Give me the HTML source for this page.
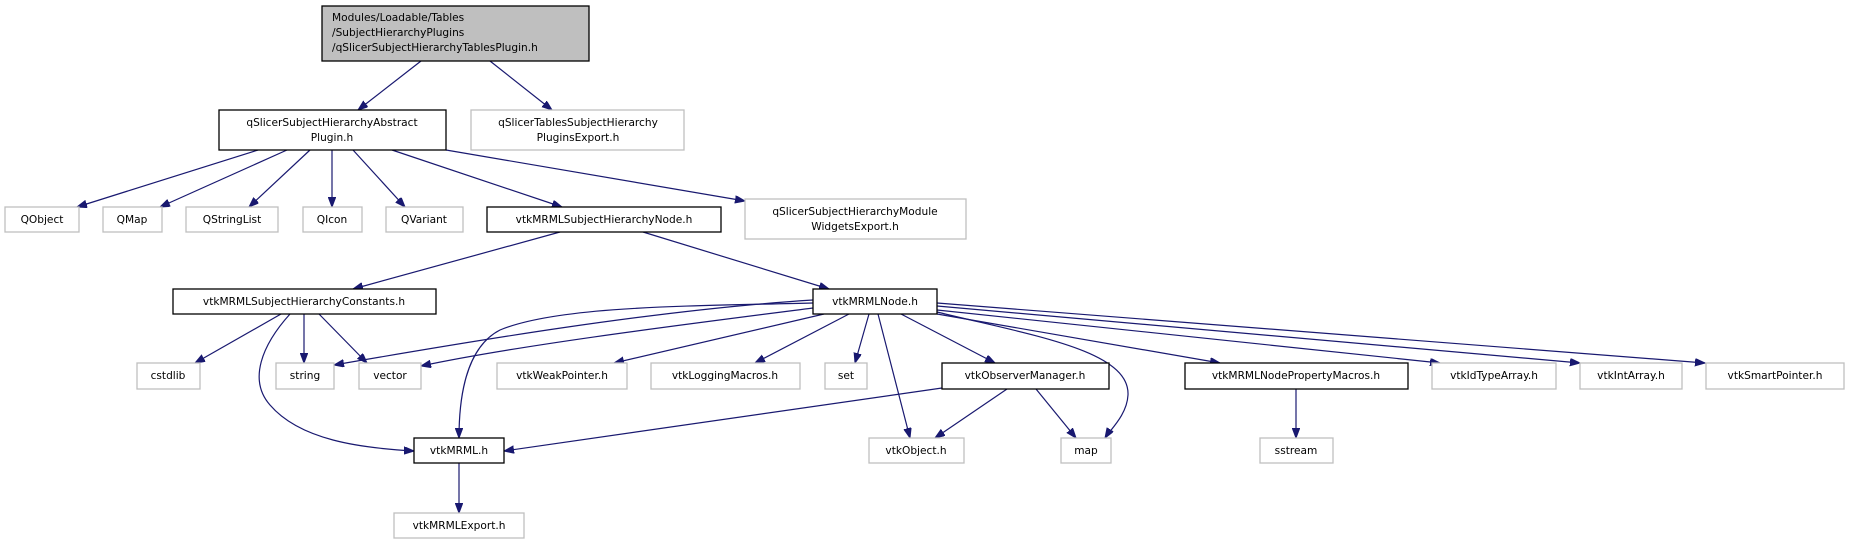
<!DOCTYPE html>
<html><head><meta charset="utf-8"><style>
html,body{margin:0;padding:0;background:#fff;width:1849px;height:544px;overflow:hidden}
svg{display:block}
text{font-family:"DejaVu Sans","Liberation Sans",sans-serif;font-size:10.6px;fill:#000;text-anchor:middle}
.g{fill:#fff;stroke:#bfbfbf;stroke-width:1.3}
.b{fill:#fff;stroke:#000;stroke-width:1.3}
.e{fill:none;stroke:#191970;stroke-width:1.2;marker-end:url(#a)}
</style></head><body>
<svg width="1849" height="544" viewBox="0 0 1849 544">
<defs><marker id="a" markerUnits="userSpaceOnUse" markerWidth="11" markerHeight="8" refX="10" refY="3.75" orient="auto"><path d="M0,0 L10,3.75 L0,7.5z" fill="#191970" stroke="#191970"/></marker></defs>
<!-- edges -->
<path class="e" d="M421,61 L358,110"/>
<path class="e" d="M490,61 L552,110"/>
<path class="e" d="M258,150 L77,207"/>
<path class="e" d="M287,150 L160,207"/>
<path class="e" d="M310,150 L249,207"/>
<path class="e" d="M332,150 L332,207"/>
<path class="e" d="M353,150 L405,207"/>
<path class="e" d="M392,150 L562,207"/>
<path class="e" d="M446,150 L745,201"/>
<path class="e" d="M560,232 L353,289"/>
<path class="e" d="M643,232 L829,289"/>
<path class="e" d="M281,314 L195,363"/>
<path class="e" d="M304,314 L304,363"/>
<path class="e" d="M319,314 L367,363"/>
<path class="e" d="M290,314 C262,345 248,380 270,405 C300,440 360,448 414,451"/>
<path class="e" d="M813,300 C650,310 450,345 334,365"/>
<path class="e" d="M813,308 C680,325 520,345 421,366"/>
<path class="e" d="M813,303 C700,306 560,305 500,330 C465,348 459,400 459,438"/>
<path class="e" d="M824,314 L614,363"/>
<path class="e" d="M849,314 L755,363"/>
<path class="e" d="M869,314 L855,363"/>
<path class="e" d="M878,314 L910,438"/>
<path class="e" d="M901,314 L995,363"/>
<path class="e" d="M937,312 C1030,335 1130,350 1128,395 C1127,415 1110,430 1105,438"/>
<path class="e" d="M937,314 L1220,363"/>
<path class="e" d="M937,310 L1440,363"/>
<path class="e" d="M937,306 L1580,363"/>
<path class="e" d="M937,303 L1705,363"/>
<path class="e" d="M942,388 L504,451"/>
<path class="e" d="M1007,389 L935,438"/>
<path class="e" d="M1036,389 L1076,438"/>
<path class="e" d="M1296,389 L1296,438"/>
<path class="e" d="M459,463 L459,513"/>
<!-- nodes -->
<rect x="322" y="6" width="267" height="55" fill="#bfbfbf" stroke="#000" stroke-width="1.3"/>
<text x="332" y="21" style="text-anchor:start">Modules/Loadable/Tables</text>
<text x="332" y="36" style="text-anchor:start">/SubjectHierarchyPlugins</text>
<text x="332" y="51" style="text-anchor:start">/qSlicerSubjectHierarchyTablesPlugin.h</text>

<rect class="b" x="219" y="110" width="227" height="40"/>
<text x="332" y="126">qSlicerSubjectHierarchyAbstract</text><text x="332" y="141">Plugin.h</text>
<rect class="g" x="471" y="110" width="213" height="40"/>
<text x="578" y="126">qSlicerTablesSubjectHierarchy</text><text x="578" y="141">PluginsExport.h</text>

<rect class="g" x="5" y="207" width="74" height="25"/><text x="42" y="223">QObject</text>
<rect class="g" x="103" y="207" width="59" height="25"/><text x="132" y="223">QMap</text>
<rect class="g" x="186" y="207" width="92" height="25"/><text x="232" y="223">QStringList</text>
<rect class="g" x="303" y="207" width="59" height="25"/><text x="332" y="223">QIcon</text>
<rect class="g" x="386" y="207" width="77" height="25"/><text x="424" y="223">QVariant</text>
<rect class="b" x="487" y="207" width="234" height="25"/><text x="604" y="223">vtkMRMLSubjectHierarchyNode.h</text>
<rect class="g" x="745" y="199" width="221" height="40"/>
<text x="855" y="215">qSlicerSubjectHierarchyModule</text><text x="855" y="230">WidgetsExport.h</text>

<rect class="b" x="173" y="289" width="263" height="25"/><text x="304" y="305">vtkMRMLSubjectHierarchyConstants.h</text>
<rect class="b" x="813" y="289" width="124" height="25"/><text x="875" y="305">vtkMRMLNode.h</text>

<rect class="g" x="137" y="363" width="63" height="26"/><text x="168" y="379">cstdlib</text>
<rect class="g" x="276" y="363" width="58" height="26"/><text x="305" y="379">string</text>
<rect class="g" x="359" y="363" width="62" height="26"/><text x="390" y="379">vector</text>
<rect class="g" x="497" y="363" width="130" height="26"/><text x="562" y="379">vtkWeakPointer.h</text>
<rect class="g" x="651" y="363" width="149" height="26"/><text x="725" y="379">vtkLoggingMacros.h</text>
<rect class="g" x="825" y="363" width="42" height="26"/><text x="846" y="379">set</text>
<rect class="b" x="942" y="363" width="167" height="26"/><text x="1025" y="379">vtkObserverManager.h</text>
<rect class="b" x="1185" y="363" width="223" height="26"/><text x="1296" y="379">vtkMRMLNodePropertyMacros.h</text>
<rect class="g" x="1432" y="363" width="124" height="26"/><text x="1494" y="379">vtkIdTypeArray.h</text>
<rect class="g" x="1580" y="363" width="102" height="26"/><text x="1631" y="379">vtkIntArray.h</text>
<rect class="g" x="1706" y="363" width="138" height="26"/><text x="1775" y="379">vtkSmartPointer.h</text>

<rect class="b" x="414" y="438" width="90" height="25"/><text x="459" y="454">vtkMRML.h</text>
<rect class="g" x="869" y="438" width="95" height="25"/><text x="916" y="454">vtkObject.h</text>
<rect class="g" x="1061" y="438" width="50" height="25"/><text x="1086" y="454">map</text>
<rect class="g" x="1260" y="438" width="73" height="25"/><text x="1296" y="454">sstream</text>
<rect class="g" x="394" y="513" width="130" height="25"/><text x="459" y="529">vtkMRMLExport.h</text>
</svg>
</body></html>
